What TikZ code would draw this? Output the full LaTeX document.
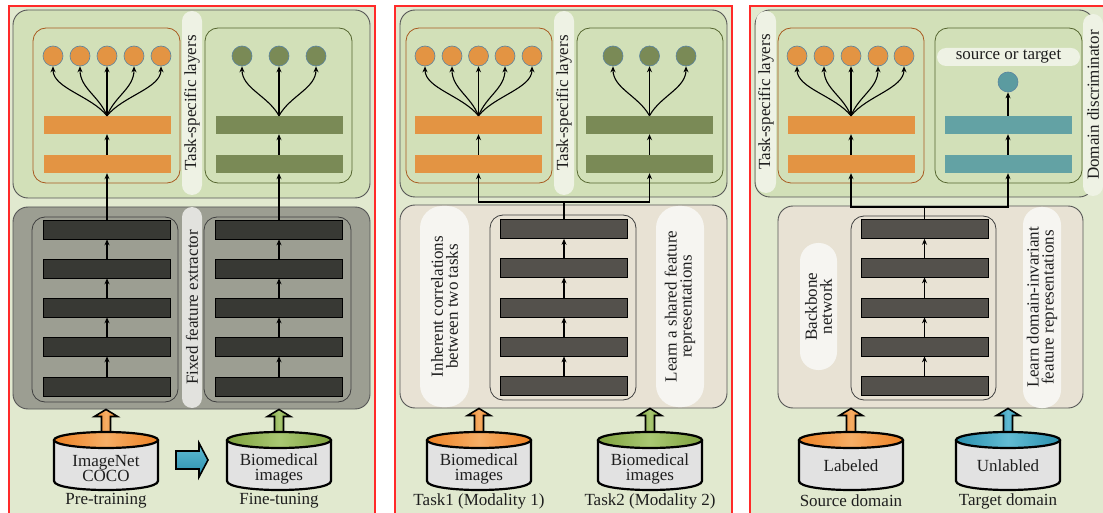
\documentclass[tikz,border=0pt]{standalone}
\usepackage{fontspec}
\setmainfont{Liberation Serif}
\usetikzlibrary{arrows.meta,calc}

\definecolor{panelbg}{HTML}{E1E9CF}
\definecolor{topbg}{HTML}{D2E0B8}
\definecolor{graybg}{HTML}{9C9E92}
\definecolor{beigebg}{HTML}{E8E2D4}
\definecolor{orangeC}{HTML}{E39443}
\definecolor{greenC}{HTML}{7A8A56}
\definecolor{tealC}{HTML}{63A2A4}
\definecolor{tealD}{HTML}{5B9BA0}
\definecolor{darkA}{HTML}{383934}
\definecolor{darkB}{HTML}{54514C}
\definecolor{pillG}{HTML}{EEF2E4}
\definecolor{pillGray}{HTML}{E2E2DE}
\definecolor{pillW}{HTML}{F6F5F1}
\definecolor{redB}{HTML}{FF2A2A}
\definecolor{boxline}{HTML}{555555}
\definecolor{oline}{HTML}{A85A20}
\definecolor{gline}{HTML}{55652F}
\definecolor{cline}{HTML}{5A84A0}
\definecolor{cylbody}{HTML}{E2E2E2}
\definecolor{cylO}{HTML}{EE8224}
\definecolor{cylOl}{HTML}{F6AE66}
\definecolor{cylG}{HTML}{7FA23E}
\definecolor{cylGl}{HTML}{A9C873}
\definecolor{cylT}{HTML}{2A90AE}
\definecolor{cylTl}{HTML}{62BCD4}
\definecolor{txt}{HTML}{1E1E1E}

\tikzset{
  panel/.style={draw=redB, line width=1.2pt, fill=panelbg},
  outerbox/.style={draw=boxline, line width=0.9pt, rounded corners=15pt, inner sep=0pt},
  obox/.style={draw=oline, line width=0.8pt, rounded corners=13pt, inner sep=0pt},
  gbox/.style={draw=gline, line width=0.8pt, rounded corners=13pt, inner sep=0pt},
  kbox/.style={draw=black!75, line width=0.8pt, rounded corners=13pt, inner sep=0pt},
  bar/.style={rectangle, inner sep=0pt, minimum width=127, minimum height=18},
  dbar/.style={rectangle, inner sep=0pt, minimum width=127, minimum height=19, draw=black, line width=0.6pt},
  dot/.style={circle, inner sep=0pt, minimum size=20, draw=cline, line width=0.6pt},
  pill/.style={inner sep=0pt},
  arr/.style={-{Stealth[length=6pt,width=5pt]}, line width=1.1pt, draw=black},
  cylline/.style={line width=2.2pt, draw=black},
  blk/.style={line width=1.6pt, draw=black, line join=miter},
}

\newcommand\dbcyl[3]{%
  \draw[cylline, fill=cylbody] (#1-52,440) -- (#1-52,481) .. controls (#1-52,493) and (#1+52,493) .. (#1+52,481) -- (#1+52,440);
  \draw[cylline, left color=#2, right color=#2, middle color=#3] (#1,440) ellipse [x radius=52, y radius=8];
}
\newcommand\blkup[3]{%
  \draw[blk,#3] ($(#1)+(-4.5,0)$) -- ($(#2)+(-4.5,7)$) -- ($(#2)+(-11.5,7)$) -- (#2) -- ($(#2)+(11.5,7)$) -- ($(#2)+(4.5,7)$) -- ($(#1)+(4.5,0)$) -- cycle;}

\begin{document}
\begin{tikzpicture}[x=1pt,y=-1pt, every node/.style={font=\fontsize{17}{15}\selectfont, text=txt, align=center}]
\useasboundingbox (0,0) rectangle (1103,513);
\clip (0,0) rectangle (1103,513);
\fill[white] (0,0) rectangle (1103,513);

% ================= Panel 1 =================
\draw[panel] (9,6) rectangle (375,530);
\node[outerbox, fill=topbg, minimum width=357, minimum height=188] (p1top) at (191.5,104) {};
\node[obox, minimum width=147, minimum height=155] (p1ob) at (106.5,105.5) {};
\node[gbox, minimum width=147, minimum height=155] (p1gb) at (278.5,105.5) {};
\node[outerbox, fill=graybg, minimum width=357, minimum height=202] (p1bot) at (191.5,308) {};
\node[kbox, minimum width=146, minimum height=185] (p1lb) at (105,309.5) {};
\node[kbox, minimum width=147, minimum height=185] (p1rb) at (277.5,309.5) {};

\node[bar, fill=orangeC] (p1o1) at (107,125) {};
\node[bar, fill=orangeC] (p1o2) at (107,164) {};
\node[bar, fill=greenC] (p1g1) at (279,125) {};
\node[bar, fill=greenC] (p1g2) at (279,164) {};
\foreach \i/\x in {1/53,2/80,3/107,4/134,5/161} \node[dot, fill=orangeC] (p1oc\i) at (\x,56) {};
\foreach \i/\x in {1/242,2/279,3/316} \node[dot, fill=greenC] (p1gc\i) at (\x,56) {};
\foreach \i/\y in {1/229.5,2/268.5,3/307.5,4/346.5,5/386.5} {
  \node[dbar, fill=darkA] (p1L\i) at (107,\y) {};
  \node[dbar, fill=darkA] (p1R\i) at (279,\y) {};
}
\foreach \a/\b in {5/4,4/3,3/2,2/1} {
  \draw[arr] (p1L\a.north) -- (p1L\b.south);
  \draw[arr] (p1R\a.north) -- (p1R\b.south);
}
\draw[arr] (p1L1.north) -- (p1o2.south);
\draw[arr] (p1R1.north) -- (p1g2.south);
\draw[arr] (p1o2.north) -- (p1o1.south);
\draw[arr] (p1g2.north) -- (p1g1.south);
\foreach \i/\d in {1/-16,2/-8,3/0,4/8,5/16}
  \draw[arr] (p1o1.north) .. controls +(\d,-20) and +(0,22) .. (p1oc\i.south);
\foreach \i/\d in {1/-11,2/0,3/11}
  \draw[arr] (p1g1.north) .. controls +(\d,-20) and +(0,22) .. (p1gc\i.south);

\node[pill, fill=pillG, rotate=90, minimum width=184, minimum height=20, rounded corners=10pt] (p1tl) at (192,103) {Task-specific layers};
\node[pill, fill=pillGray, rotate=90, minimum width=201, minimum height=20, rounded corners=10pt] (p1fl) at (192,307.5) {Fixed feature extractor};

\coordinate (c1t) at (106,438); \coordinate (c1e) at (c1t |- p1bot.south);
\coordinate (c2t) at (279,438); \coordinate (c2e) at (c2t |- p1bot.south);
\blkup{c1t}{c1e}{left color=cylO, right color=cylO, middle color=cylOl}
\blkup{c2t}{c2e}{left color=cylG, right color=cylG, middle color=cylGl}
\dbcyl{106}{cylO}{cylOl}
\dbcyl{279}{cylG}{cylGl}
\node (cyl1) at (106,469) {ImageNet\\COCO};
\node (cyl2) at (279,469) {Biomedical\\images};
\coordinate (h1) at (176,460); \coordinate (h2) at (208,460);
\draw[blk, top color=cylTl, bottom color=cylT] ($(h1)+(0,-9)$) -- ($(h2)+(-9,-9)$) -- ($(h2)+(-9,-17)$) -- (h2) -- ($(h2)+(-9,17)$) -- ($(h2)+(-9,9)$) -- ($(h1)+(0,9)$) -- cycle;
\node (lab1) at (106,501) {Pre-training};
\node (lab2) at (279,501) {Fine-tuning};

% ================= Panel 2 =================
\draw[panel] (395,6) rectangle (732,530);
\node[outerbox, fill=topbg, minimum width=327, minimum height=187] (p2top) at (563.5,103.5) {};
\node[obox, minimum width=146, minimum height=155] (p2ob) at (479,105.5) {};
\node[gbox, minimum width=146, minimum height=155] (p2gb) at (650,105.5) {};
\node[outerbox, fill=beigebg, minimum width=327, minimum height=203] (p2bot) at (563.5,306.5) {};
\node[kbox, minimum width=146, minimum height=185] (p2ib) at (563,307.5) {};

\node[bar, fill=orangeC] (p2o1) at (478.5,125) {};
\node[bar, fill=orangeC] (p2o2) at (478.5,164) {};
\node[bar, fill=greenC] (p2g1) at (649.5,125) {};
\node[bar, fill=greenC] (p2g2) at (649.5,164) {};
\foreach \i/\x in {1/425,2/452,3/478.5,4/505,5/532} \node[dot, fill=orangeC] (p2oc\i) at (\x,56) {};
\foreach \i/\x in {1/613,2/649.5,3/686} \node[dot, fill=greenC] (p2gc\i) at (\x,56) {};
\foreach \i/\y in {1/229,2/267.5,3/307.5,4/346.5,5/385.5}
  \node[dbar, fill=darkB] (p2L\i) at (564,\y) {};
\foreach \a/\b in {5/4,4/3,3/2,2/1}
  \draw[arr] (p2L\a.north) -- (p2L\b.south);
\draw[arr] (p2o2.north) -- (p2o1.south);
\draw[arr] (p2g2.north) -- (p2g1.south);
\foreach \i/\d in {1/-16,2/-8,3/0,4/8,5/16}
  \draw[arr] (p2o1.north) .. controls +(\d,-20) and +(0,22) .. (p2oc\i.south);
\foreach \i/\d in {1/-11,2/0,3/11}
  \draw[arr] (p2g1.north) .. controls +(\d,-20) and +(0,22) .. (p2gc\i.south);
\coordinate (p2j) at (564,202);
\draw[arr] (p2L1.north) -- (p2j) -| (p2o2.south);
\draw[arr] (p2j) -| (p2g2.south);

\node[pill, fill=pillG, rotate=90, minimum width=184, minimum height=20, rounded corners=10pt] (p2tl) at (564,103) {Task-specific layers};
\node[pill, fill=pillW, rotate=90, minimum width=201, minimum height=49, rounded corners=22pt] (p2il) at (444.5,306.5) {Inherent correlations\\between two tasks};
\node[pill, fill=pillW, rotate=90, minimum width=201, minimum height=48, rounded corners=22pt] (p2sl) at (680,306.5) {Learn a shared feature\\representations};

\coordinate (c3t) at (479,438); \coordinate (c3e) at (c3t |- p2bot.south);
\coordinate (c4t) at (650,438); \coordinate (c4e) at (c4t |- p2bot.south);
\blkup{c3t}{c3e}{left color=cylO, right color=cylO, middle color=cylOl}
\blkup{c4t}{c4e}{left color=cylG, right color=cylG, middle color=cylGl}
\dbcyl{479}{cylO}{cylOl}
\dbcyl{650}{cylG}{cylGl}
\node (cyl3) at (479,469) {Biomedical\\images};
\node (cyl4) at (650,469) {Biomedical\\images};
\node (lab3) at (479,501) {Task1 (Modality 1)};
\node (lab4) at (650,501) {Task2 (Modality 2)};

% ================= Panel 3 =================
\draw[panel] (750,6) rectangle (1120,530);
\node[outerbox, fill=topbg, minimum width=339, minimum height=187] (p3top) at (924.5,103.5) {};
\node[obox, minimum width=146, minimum height=155] (p3ob) at (851,105.5) {};
\node[gbox, minimum width=147, minimum height=155] (p3tb) at (1008.5,105.5) {};
\node[outerbox, fill=beigebg, minimum width=305, minimum height=202] (p3bot) at (930.5,307) {};
\node[kbox, minimum width=145, minimum height=184] (p3ib) at (923.5,308) {};

\node[bar, fill=orangeC] (p3o1) at (851,125) {};
\node[bar, fill=orangeC] (p3o2) at (851,164) {};
\node[bar, fill=tealC] (p3t1) at (1008,125) {};
\node[bar, fill=tealC] (p3t2) at (1008,164) {};
\foreach \i/\x in {1/797,2/824,3/851,4/878,5/904} \node[dot, fill=orangeC] (p3oc\i) at (\x,56) {};
\node[dot, fill=tealD] (p3tc) at (1008,82) {};
\node[pill, fill=pillG, minimum width=143, minimum height=18, rounded corners=9pt] (p3st) at (1008.5,57) {source or target};
\foreach \i/\y in {1/229,2/267.5,3/307.5,4/346.5,5/385.5}
  \node[dbar, fill=darkB] (p3L\i) at (924.5,\y) {};
\foreach \a/\b in {5/4,4/3,3/2,2/1}
  \draw[arr] (p3L\a.north) -- (p3L\b.south);
\draw[arr] (p3o2.north) -- (p3o1.south);
\draw[arr] (p3t2.north) -- (p3t1.south);
\draw[arr] (p3t1.north) -- (p3tc.south);
\foreach \i/\d in {1/-16,2/-8,3/0,4/8,5/16}
  \draw[arr] (p3o1.north) .. controls +(\d,-20) and +(0,22) .. (p3oc\i.south);
\coordinate (p3j) at (924.5,207);
\draw[arr] (p3L1.north) -- (p3j) -| (p3o2.south);
\draw[arr] (p3j) -| (p3t2.south);

\node[pill, fill=pillG, rotate=90, minimum width=182, minimum height=20, rounded corners=10pt] (p3tl) at (766,102) {Task-specific layers};
\node[pill, fill=pillG, rotate=90, minimum width=182, minimum height=20, rounded corners=10pt] (p3dl) at (1093,105) {Domain discriminator};
\node[pill, fill=pillW, rotate=90, minimum width=127, minimum height=37, rounded corners=18pt] (p3bl) at (818.5,306.5) {Backbone\\network};
\node[pill, fill=pillW, rotate=90, minimum width=201, minimum height=38, rounded corners=18pt] (p3ll) at (1042,307.5) {Learn domain-invariant\\feature representations};

\coordinate (c5t) at (851,438); \coordinate (c5e) at (c5t |- p3bot.south);
\coordinate (c6t) at (1008,438); \coordinate (c6e) at (c6t |- p3bot.south);
\blkup{c5t}{c5e}{left color=cylO, right color=cylO, middle color=cylOl}
\blkup{c6t}{c6e}{left color=cylT, right color=cylT, middle color=cylTl}
\dbcyl{851}{cylO}{cylOl}
\dbcyl{1008}{cylT}{cylTl}
\node (cyl5) at (851,466) {Labeled};
\node (cyl6) at (1008,466) {Unlabled};
\node (lab5) at (851,501) {Source domain};
\node (lab6) at (1008,501) {Target domain};
\end{tikzpicture}
\end{document}
